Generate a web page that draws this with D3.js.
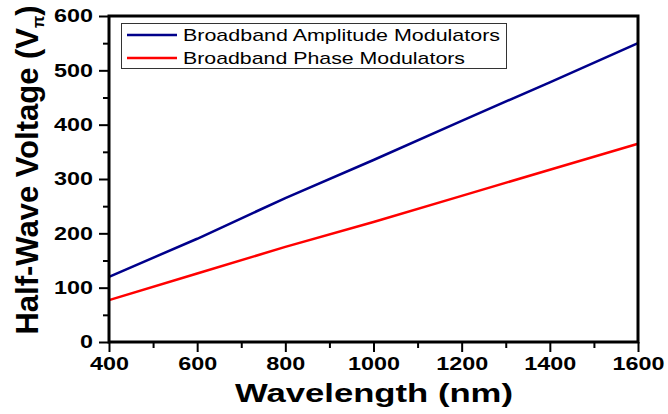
<!DOCTYPE html>
<html>
<head>
<meta charset="utf-8">
<script src="https://cdn.jsdelivr.net/npm/d3@7"></script>
<style>
  body { margin: 0; background: #ffffff; }
  svg { display: block; }
</style>
</head>
<body>
<script>
// Wavelength (nm)
var wavelengths = [400, 600, 800, 1000, 1200, 1400, 1600];
// Half-wave voltage for each series
var amplitudeVpi = [120, 190, 265, 335, 407, 478, 550];
var phaseVpi = [77, 126, 175, 221, 269, 317, 365];

var seriesNames = ["Broadband Amplitude Modulators", "Broadband Phase Modulators"];
var seriesColors = ["#00008b", "#ff0000"];

var xTicks = [400, 600, 800, 1000, 1200, 1400, 1600];
var xMinorTicks = [500, 700, 900, 1100, 1300, 1500];
var yTicks = [0, 100, 200, 300, 400, 500, 600];
var yMinorTicks = [50, 150, 250, 350, 450, 550];

var w = 668;
var h = 414;
// plot edges (note: "top" is reserved on window, so use plot* names)
var plotLeft = 109, plotRight = 638, plotTop = 16, plotBottom = 342;

var svg = d3.select("body")
            .append("svg")
            .attr("width", w)
            .attr("height", h);

var x = d3.scaleLinear().domain([400, 1600]).range([plotLeft, plotRight]);
var y = d3.scaleLinear().domain([0, 600]).range([plotBottom, plotTop]);

var font = "'Liberation Sans', Arial, sans-serif";

// lines first so the frame sits on top
var series = [amplitudeVpi, phaseVpi];
var line = d3.line()
             .x(function(d) { return x(d[0]); })
             .y(function(d) { return y(d[1]); });

series.forEach(function(vals, k) {
    var pts = wavelengths.map(function(wl, i) { return [wl, vals[i]]; });
    svg.append("path")
       .datum(pts)
       .attr("d", line)
       .attr("fill", "none")
       .attr("stroke", seriesColors[k])
       .attr("stroke-width", 2.5);
});

// minor ticks (no labels)
var xMinor = svg.append("g")
                .attr("transform", "translate(0," + plotBottom + ")")
                .call(d3.axisBottom(x).tickValues(xMinorTicks).tickSize(6).tickFormat(""));
var yMinor = svg.append("g")
                .attr("transform", "translate(" + plotLeft + ",0)")
                .call(d3.axisLeft(y).tickValues(yMinorTicks).tickSize(6).tickFormat(""));

// major ticks with labels
var xAxis = svg.append("g")
               .attr("transform", "translate(0," + plotBottom + ")")
               .call(d3.axisBottom(x).tickValues(xTicks).tickSize(10).tickPadding(5)
                       .tickFormat(d3.format("d")));
var yAxis = svg.append("g")
               .attr("transform", "translate(" + plotLeft + ",0)")
               .call(d3.axisLeft(y).tickValues(yTicks).tickSize(10).tickPadding(6)
                       .tickFormat(d3.format("d")));

[xMinor, yMinor, xAxis, yAxis].forEach(function(g) {
    g.select(".domain").remove();
    g.selectAll("line").attr("stroke", "#000").attr("stroke-width", 2);
});

// labels in the picture look horizontally stretched, so force their width
xAxis.selectAll("text")
     .attr("font-family", font)
     .attr("font-weight", "bold")
     .attr("font-size", 19)
     .attr("fill", "#000")
     .attr("textLength", function(d) { return 13 * String(d).length; })
     .attr("lengthAdjust", "spacingAndGlyphs");

yAxis.selectAll("text")
     .attr("font-family", font)
     .attr("font-weight", "bold")
     .attr("font-size", 18)
     .attr("fill", "#000")
     .attr("textLength", function(d) { return 13 * String(d).length; })
     .attr("lengthAdjust", "spacingAndGlyphs");

// frame around plot
svg.append("rect")
   .attr("x", plotLeft)
   .attr("y", plotTop)
   .attr("width", plotRight - plotLeft)
   .attr("height", plotBottom - plotTop)
   .attr("fill", "none")
   .attr("stroke", "#000")
   .attr("stroke-width", 3);

// axis titles
svg.append("text")
   .attr("x", 374)
   .attr("y", 402)
   .attr("text-anchor", "middle")
   .attr("font-family", font)
   .attr("font-weight", "bold")
   .attr("font-size", 25)
   .attr("textLength", 278)
   .attr("lengthAdjust", "spacingAndGlyphs")
   .text("Wavelength (nm)");

var yTitle = svg.append("text")
                .attr("transform", "translate(38,170) rotate(-90)")
                .attr("text-anchor", "middle")
                .attr("font-family", font)
                .attr("font-weight", "bold")
                .attr("font-size", 31);
yTitle.append("tspan").text("Half-Wave Voltage (V");
yTitle.append("tspan")
      .attr("font-size", 16)
      .attr("dy", 6)
      .text("π");
yTitle.append("tspan")
      .attr("dy", -6)
      .text(")");

// legend
var legend = svg.append("g");
legend.append("rect")
      .attr("x", 121.5)
      .attr("y", 23.5)
      .attr("width", 385)
      .attr("height", 45)
      .attr("fill", "#fff")
      .attr("stroke", "#333")
      .attr("stroke-width", 1);

var legendWidths = [317, 282];
seriesNames.forEach(function(name, k) {
    var ly = 35 + k * 23;
    legend.append("line")
          .attr("x1", 127)
          .attr("x2", 177)
          .attr("y1", ly)
          .attr("y2", ly)
          .attr("stroke", seriesColors[k])
          .attr("stroke-width", 2.5);
    legend.append("text")
          .attr("x", 183)
          .attr("y", ly + 6)
          .attr("font-family", font)
          .attr("font-size", 17)
          .attr("textLength", legendWidths[k])
          .attr("lengthAdjust", "spacingAndGlyphs")
          .text(name);
});
</script>
</body>
</html>
